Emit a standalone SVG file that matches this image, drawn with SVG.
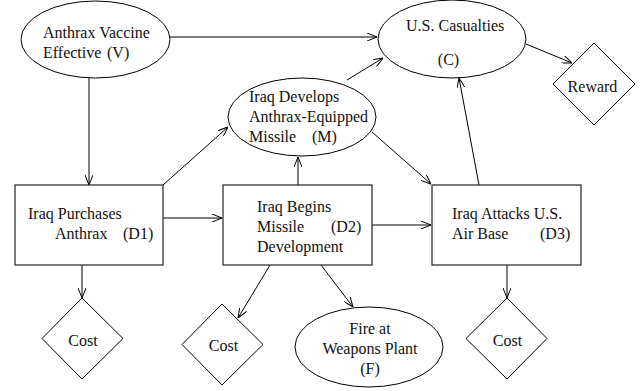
<svg xmlns="http://www.w3.org/2000/svg" width="644" height="391" viewBox="0 0 644 391">
<style>
.n{fill:#fff;stroke:#000;stroke-width:1}
.b{fill:#fff;stroke:#222;stroke-width:1.2}
text{font-family:"Liberation Serif","Times New Roman",serif;font-size:16px;fill:#111}
.c{text-anchor:middle}
.e line{stroke:#000;stroke-width:1;marker-end:url(#ah)}
</style>
<defs>
<marker id="ah" viewBox="0 0 10 8" refX="10" refY="4" markerWidth="10" markerHeight="8" markerUnits="userSpaceOnUse" orient="auto">
<path d="M0,0 L10,4 L0,8" fill="none" stroke="#000" stroke-width="1"/>
</marker>
</defs>
<g id="edges" class="e">
<line x1="170" y1="37" x2="377" y2="37"/>
<line x1="89" y1="78" x2="89" y2="185"/>
<line x1="163" y1="185" x2="228" y2="127"/>
<line x1="163" y1="218" x2="222" y2="218"/>
<line x1="347" y1="80" x2="383" y2="58"/>
<line x1="298" y1="185" x2="298" y2="157"/>
<line x1="372" y1="132" x2="431" y2="184"/>
<line x1="372" y1="225" x2="431" y2="225"/>
<line x1="479" y1="185" x2="459" y2="78"/>
<line x1="526" y1="44" x2="572" y2="63"/>
<line x1="82" y1="265" x2="82" y2="298"/>
<line x1="270" y1="265" x2="238" y2="318"/>
<line x1="321" y1="265" x2="353" y2="307"/>
<line x1="507" y1="265" x2="507" y2="298"/>
</g>
<g id="V">
<ellipse class="n" cx="95.5" cy="39.5" rx="74.5" ry="38.5"/>
<text x="43" y="38">Anthrax Vaccine</text>
<text y="58"><tspan x="43">Effective</tspan><tspan x="107">(V)</tspan></text>
</g>
<g id="C">
<ellipse class="n" cx="452" cy="39" rx="74" ry="39"/>
<text x="406" y="31">U.S. Casualties</text>
<text class="c" x="448.5" y="65">(C)</text>
</g>
<g id="Reward">
<polygon class="n" points="594,43 635,84 594,125 553,84"/>
<text class="c" x="592.5" y="92">Reward</text>
</g>
<g id="M">
<ellipse class="n" cx="302" cy="117" rx="74" ry="39"/>
<text x="249" y="102">Iraq Develops</text>
<text x="249" y="122">Anthrax-Equipped</text>
<text y="142"><tspan x="249">Missile</tspan><tspan x="312">(M)</tspan></text>
</g>
<g id="D1">
<rect class="b" x="15" y="185" width="148" height="80"/>
<text x="28" y="219">Iraq Purchases</text>
<text y="239"><tspan x="55">Anthrax</tspan><tspan x="123">(D1)</tspan></text>
</g>
<g id="D2">
<rect class="b" x="223" y="185" width="149" height="80"/>
<text x="257" y="212">Iraq Begins</text>
<text y="232"><tspan x="257">Missile</tspan><tspan x="331">(D2)</tspan></text>
<text x="257" y="252">Development</text>
</g>
<g id="D3">
<rect class="b" x="432" y="185" width="149" height="80"/>
<text x="452" y="219">Iraq Attacks U.S.</text>
<text y="239"><tspan x="452">Air Base</tspan><tspan x="540">(D3)</tspan></text>
</g>
<g id="Cost1">
<polygon class="n" points="82,298 123,338.5 82,379 42,338.5"/>
<text class="c" x="83" y="346">Cost</text>
</g>
<g id="Cost2">
<polygon class="n" points="222,304 263,344.5 222,385 182,344.5"/>
<text class="c" x="223.5" y="351">Cost</text>
</g>
<g id="F">
<ellipse class="n" cx="369" cy="347" rx="74" ry="40"/>
<text class="c" x="370" y="334">Fire at</text>
<text class="c" x="370" y="354">Weapons Plant</text>
<text class="c" x="370" y="374">(F)</text>
</g>
<g id="Cost3">
<polygon class="n" points="507,298 547,338.5 507,379 466,338.5"/>
<text class="c" x="507.5" y="346">Cost</text>
</g>
</svg>
